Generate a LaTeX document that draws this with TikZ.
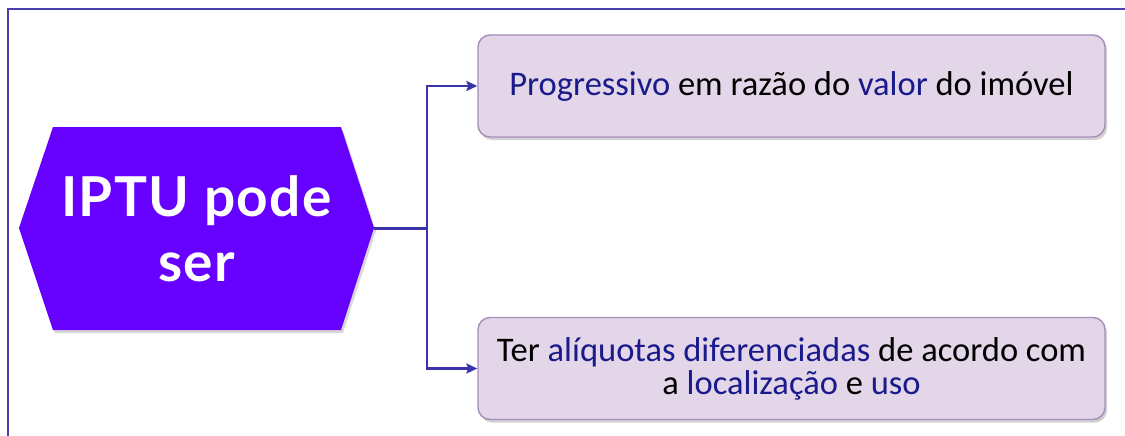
\documentclass[tikz,border=0pt]{standalone}
\usepackage{fontspec}
\setmainfont{Carlito}
\newfontfamily\titlefont[LetterSpace=2.5]{Lato}
\usetikzlibrary{arrows.meta,shadows}
\definecolor{hexfill}{HTML}{6600FF}
\definecolor{boxfill}{HTML}{E2D6E8}
\definecolor{boxline}{HTML}{A68DBA}
\definecolor{txtblue}{HTML}{1A1A8C}
\definecolor{linecol}{HTML}{3A33AA}
\definecolor{framecol}{HTML}{4A40B0}
\tikzset{
  frameline/.style={draw=framecol, line width=1.6pt},
  hexshape/.style={fill=hexfill, drop shadow={shadow xshift=2pt, shadow yshift=-3pt, opacity=0.3}},
  box/.style={draw=boxline, fill=boxfill, line width=1.4pt, rounded corners=12pt,
    minimum width=627pt, minimum height=102pt, inner sep=0pt, align=center,
    font=\fontsize{34.5}{33}\selectfont,
    drop shadow={shadow xshift=2pt, shadow yshift=-3pt, opacity=0.35}},
  conn/.style={draw=linecol, line width=2.4pt},
  arr/.style={conn, -{Stealth[length=11pt,width=10pt,inset=2pt]}},
}
\newcommand{\bl}[1]{\textcolor{txtblue}{#1}}
\begin{document}
\begin{tikzpicture}[x=1pt,y=-1pt]
\useasboundingbox (0,0) rectangle (1125,436);
\fill[white] (0,0) rectangle (1125,436);
\draw[frameline] (8,440) -- (8,9) -- (1130,9);
% hexagon
\path[hexshape] (19,228) -- (53,127) -- (341,127) -- (374,228) -- (341,330) -- (53,330) -- cycle;
\node[inner sep=0pt, minimum width=355pt, minimum height=203pt, text=white, align=center,
  font=\titlefont\bfseries\fontsize{55}{65}\selectfont] (hex) at (196.5,228.5) {IPTU pode\\ser};
% boxes
\node[box] (b1) at (791.5,86) {\bl{Progressivo} em razão do \bl{valor} do imóvel};
\node[box] (b2) at (791.5,368.5) {Ter \bl{alíquotas diferenciadas} de acordo com\\a \bl{localização} e \bl{uso}};
% connectors
\draw[conn] (hex.east) -- ++(53,0) coordinate (j);
\draw[arr] (j) |- (b1.west);
\draw[arr] (j) |- (b2.west);
\end{tikzpicture}
\end{document}
